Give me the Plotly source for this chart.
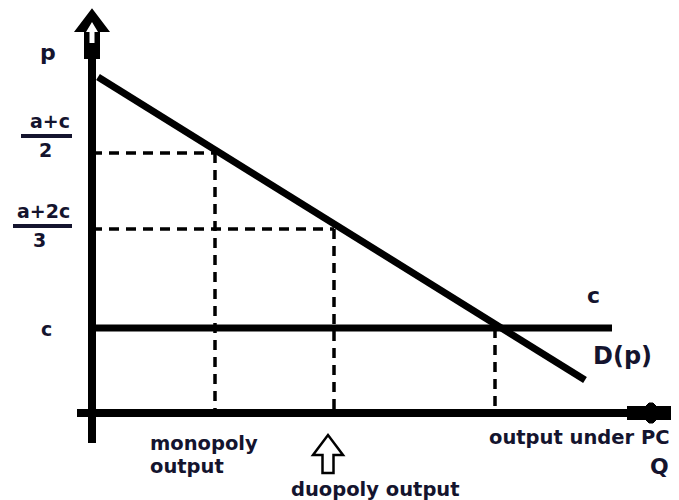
import plotly.graph_objects as go

# ---- data (chart units: Q along x, p along y) ----
demand_Q = [6, 493]
demand_p = [336, 33]
c_level = 85
c_line_Q = [0, 520]
Q_mono, p_mono = 123, 260
Q_duo, p_duo = 242, 184
Q_pc = 403
y_axis_p = [-30, 360]
x_axis_Q = [-15, 535]
# page body has an 8px margin, so ranges are offset to keep the layout in place
x_range = [-84, 595]
y_range = [-95, 405]

INK = "#14142e"
FONT = "DejaVu Sans"

fig = go.Figure()

def seg(xs, ys, width, dash=None):
    fig.add_trace(go.Scatter(x=xs, y=ys, mode="lines", hoverinfo="skip",
                             line=dict(color="black", width=width, dash=dash)))

dash = "10px,7px"
# dashed guides
seg([0, Q_mono], [p_mono, p_mono], 3.5, dash)
seg([Q_mono, Q_mono], [p_mono, 0], 3.5, dash)
seg([0, Q_duo], [p_duo, p_duo], 3.5, dash)
seg([Q_duo, Q_duo], [p_duo, 0], 3.5, dash)
seg([Q_pc, Q_pc], [c_level, 0], 3.5, dash)

# axes
seg([0, 0], y_axis_p, 8)
seg(x_axis_Q, [0, 0], 8)
seg([x_axis_Q[1], 587], [0, 0], 14)
# cost line and demand
seg(c_line_Q, [c_level, c_level], 7)
seg(demand_Q, demand_p, 7)

def poly(pts):
    return "M " + " L ".join(f"{x},{y}" for x, y in pts) + " Z"

shapes = []
# y-axis arrow (outlined)
top = y_axis_p[1]
outer = [(-7, top - 5), (-7, top + 22), (-16, top + 22), (0, top + 43),
         (16, top + 22), (7, top + 22), (7, top - 5)]
shapes.append(dict(type="path", path=poly(outer), fillcolor="black",
                   line=dict(color="black", width=2), layer="above"))
inner = [(-2.5, top + 10), (-2.5, top + 21), (-6, top + 21), (0, top + 31),
         (6, top + 21), (2.5, top + 21), (2.5, top + 10)]
shapes.append(dict(type="path", path=poly(inner), fillcolor="white",
                   line=dict(color="white", width=0), layer="above"))
# x-axis arrow bulge
xe = 587
bulge = [(xe - 33, -7), (xe - 30, -10), (xe - 26, -10), (xe - 23, -7),
         (xe - 23, 7), (xe - 26, 10), (xe - 30, 10), (xe - 33, 7)]
shapes.append(dict(type="path", path=poly(bulge), fillcolor="black",
                   line=dict(color="black", width=1), layer="above"))
# hollow arrow pointing to duopoly output
ax = Q_duo - 6
harrow = [(ax - 5.5, -60), (ax - 5.5, -42), (ax - 15, -42), (ax, -22),
          (ax + 15, -42), (ax + 5.5, -42), (ax + 5.5, -60)]
shapes.append(dict(type="path", path=poly(harrow), fillcolor="white",
                   line=dict(color="black", width=2.5), layer="above"))
# fraction bars
shapes.append(dict(type="line", x0=-71, x1=-20, y0=277, y1=277,
                   line=dict(color=INK, width=4)))
shapes.append(dict(type="line", x0=-79, x1=-20, y0=187, y1=187,
                   line=dict(color=INK, width=4)))

def txt(x, y, s, size=19, xanchor="center", yanchor="middle"):
    return dict(x=x, y=y, text=s, showarrow=False, xanchor=xanchor,
                yanchor=yanchor, font=dict(family=FONT, size=size, color=INK))

ann = [
    txt(-44, 361, "<b>p</b>", 22),
    txt(-42, 292, "<b>a+c</b>", 19),
    txt(-47, 263, "<b>2</b>", 19),
    txt(-49, 202, "<b>a+2c</b>", 19),
    txt(-53, 173, "<b>3</b>", 19),
    txt(-46, c_level - 1, "<b>c</b>", 19),
    txt(501, c_level + 33, "<b>c</b>", 22),
    txt(530, 57, "<b>D(p)</b>", 24),
    txt(56, -17, "<b>monopoly</b>", 19.5, xanchor="left", yanchor="top"),
    txt(56, -40, "<b>output</b>", 19.5, xanchor="left", yanchor="top"),
    txt(197, -63, "<b>duopoly output</b>", 19.5, xanchor="left", yanchor="top"),
    txt(395, -11, "<b>output under PC</b>", 19.5, xanchor="left", yanchor="top"),
    txt(556, -39, "<b>Q</b>", 22, xanchor="left", yanchor="top"),
]

fig.update_layout(
    width=679, height=500, margin=dict(l=0, r=0, t=0, b=0),
    paper_bgcolor="white", plot_bgcolor="white", showlegend=False,
    xaxis=dict(range=x_range, visible=False, fixedrange=True),
    yaxis=dict(range=y_range, visible=False, fixedrange=True),
    shapes=shapes, annotations=ann,
)
fig.write_html("out.html")
